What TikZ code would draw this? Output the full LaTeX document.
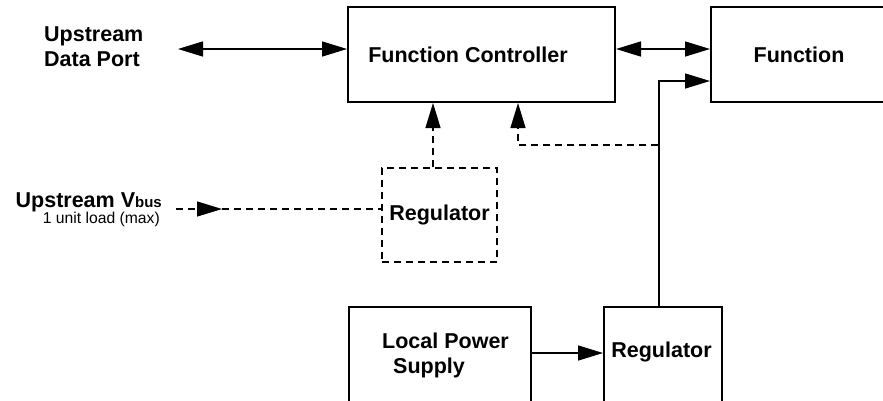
\documentclass[tikz,border=0pt]{standalone}
\usepackage{fontspec}
\setmainfont{Liberation Sans}
\usetikzlibrary{arrows.meta,calc}
\begin{document}
\begin{tikzpicture}[x=1pt,y=-1pt,
    font=\fontsize{21.5}{25}\selectfont\bfseries,
    >={Triangle[length=25pt,width=15pt]},
    blk/.style={draw,line width=2pt,inner sep=0pt},
    wire/.style={line width=1.5pt},
    dsh/.style={line width=1.2pt,dash pattern=on 7pt off 5pt}]
  \useasboundingbox (0,0) rectangle (883,400);
  \clip (0,0) rectangle (883,400);
  \node[blk,minimum width=267pt,minimum height=95pt] (ctrl) at (481.5,54.5) {Function Controller\kern27pt};
  \node[blk,minimum width=176pt,minimum height=95pt] (func) at (799,54.5) {Function};
  \node[blk,dsh,minimum width=115pt,minimum height=94pt] (reg1) at (439.5,215) {Regulator};
  \node[blk,minimum width=182pt,minimum height=150pt,anchor=north west] (lps) at (348,306) {};
  \node[blk,minimum width=118pt,minimum height=150pt,anchor=north west] (reg2) at (603,306) {};
  \node[anchor=north west,align=left,inner sep=0pt] (lpstext) at (382,333) {Local Power\\\hspace*{11pt}Supply};
  \node[anchor=base] (reg2text) at (661.5,357) {Regulator};
  \node[anchor=north west,align=left,inner sep=0pt] (port) at (44,27) {Upstream\\Data Port};
  \node[anchor=base east,inner sep=0pt] (vbus) at (162,207) {Upstream V{\fontsize{15}{15}\selectfont bus}};
  \node[anchor=base east,inner sep=0pt,font=\fontsize{15.7}{18}\selectfont] (load) at (160,223) {1 unit load (max)};
  \coordinate (dport) at (178,49);
  \draw[wire,<->] (dport) -- (ctrl.west |- dport);
  \draw[wire,<->] ($(ctrl.east)+(0,-5.5)$) -- ($(func.west)+(0,-5.5)$);
  \draw[wire,->] ($(reg2.north)+(-4,0)$) |- ($(func.west)+(0,26.5)$);
  \coordinate (tap) at (658,145);
  \draw[dsh,->] (tap) -| ($(ctrl.south)+(36.5,0)$);
  \draw[dsh,->] ($(reg1.north)+(-6.5,0)$) -- ($(ctrl.south)+(-48.5,0)$);
  \coordinate (vin) at (176,209);
  \draw[dsh,->] (vin) -- ++(46,0) coordinate (vtip);
  \draw[dsh] (vtip) -- (reg1.west |- vtip);
  \draw[wire,->] ($(lps.north east)+(0,47)$) -- ($(reg2.north west)+(0,47)$);
\end{tikzpicture}
\end{document}
